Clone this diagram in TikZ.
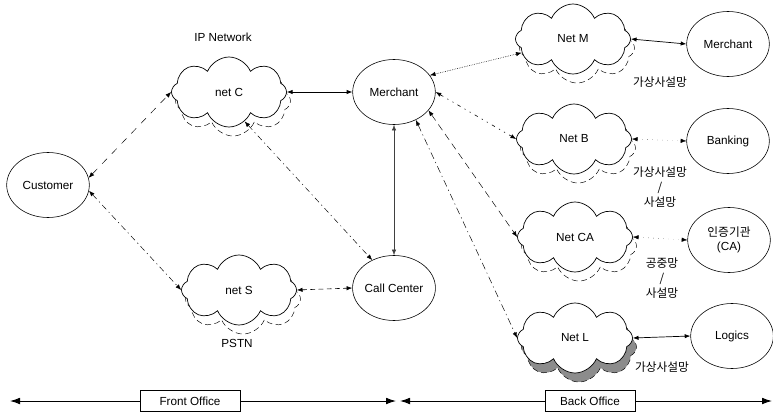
\documentclass[tikz,border=0pt]{standalone}
\usepackage{fontspec}
\setmainfont{Liberation Sans}
\newfontfamily\kr{Noto Sans CJK KR}
\usetikzlibrary{shapes.symbols,shapes.geometric,arrows.meta}
\begin{document}
\begin{tikzpicture}[x=0.03cm,y=-0.03cm,
  every node/.style={inner sep=0pt, font=\fontsize{10}{12}\selectfont},
  ell/.style={ellipse, draw, line width=0.5pt, minimum width=2.48cm, minimum height=1.95cm},
  net/.style={cloud, cloud puffs=8, cloud puff arc=135, cloud ignores aspect, draw, fill=white, line width=0.6pt, minimum width=3.45cm, minimum height=2.1cm},
  shadownet/.style={net, dash pattern=on 5pt off 3pt, line width=0.4pt},
  kor/.style={font=\kr\fontsize{10}{12.8}\selectfont, align=center},
  tip/.style={{Latex[length=1.7mm,width=1.3mm]}-{Latex[length=1.7mm,width=1.3mm]}},
  big/.style={-{Latex[length=3mm,width=2mm]}, line width=0.8pt},
  box/.style={draw, line width=0.5pt, minimum height=0.62cm},
]
\useasboundingbox (0,0) rectangle (773,414);

% clouds (shadows first)
\node[shadownet] (netCs) at (233,101) {};
\node[net] (netC) at (229,92) {net C};
\node[shadownet] (netSs) at (243,299) {};
\node[net] (netS) at (239,290) {net S};
\node[shadownet] (netMs) at (577,48) {};
\node[net] (netM) at (573,39) {Net M};
\node[shadownet] (netBs) at (578,148) {};
\node[net] (netB) at (574,139) {Net B};
\node[shadownet] (netCAs) at (579,246) {};
\node[net] (netCA) at (575,237) {Net CA};
\node[shadownet, fill=black!45] (netLs) at (579,347) {};
\node[net] (netL) at (575,338) {Net L};

% ellipses
\node[ell] (cust) at (48,185) {Customer};
\node[ell] (merch) at (394,92) {Merchant};
\node[ell] (cc) at (394,288) {Call Center};
\node[ell] (morch) at (728,44) {Merchant};
\node[ell] (bank) at (728,141) {Banking};
\node[ell, align=center, font=\fontsize{10}{12}\selectfont] (ca) at (729,240) {{\kr 인증기관}\\(CA)};
\node[ell] (logic) at (732,336) {Logics};

% labels
\node (ipn) at (223,37) {IP Network};
\node (pstn) at (237,343) {PSTN};
\node[kor] (km) at (660,82) {가상사설망};
\node[kor] (kb) at (660,187) {가상사설망\\/\\사설망};
\node[kor] (kca) at (662,278) {공중망\\/\\사설망};
\node[kor] (kl) at (662,367) {가상사설망};

% connectors
\draw[tip, line width=0.4pt, dash pattern=on 6pt off 6pt] (cust.10) -- (netC.west);
\draw[tip, line width=0.4pt, dash pattern=on 5pt off 3pt on 1pt off 3pt] (cust.-8) -- (netS.west);
\draw[tip, line width=0.6pt] (netC.east) -- (merch.west);
\draw[tip, line width=0.4pt, dash pattern=on 5pt off 3pt on 1pt off 3pt] (netC.-62) -- (cc.128);
\draw[tip, line width=0.4pt, black!75] (merch.south) -- (cc.north);
\draw[tip, line width=0.5pt, dash pattern=on 4pt off 3pt] (netS.east) -- (cc.west);
\draw[tip, line width=0.5pt, densely dotted] (merch.25) -- (netM.195);
\draw[tip, line width=0.5pt, dash pattern=on 3pt off 4pt on 1pt off 4pt on 1pt off 4pt] (merch.east) -- (netB.west);
\draw[tip, line width=0.4pt, dash pattern=on 6pt off 4pt] (merch.-28) -- (netCA.west);
\draw[tip, line width=0.4pt, dash pattern=on 6pt off 3pt on 1pt off 3pt] (merch.-52) -- (netL.west);
\draw[tip, line width=0.6pt] (netM.east) -- (morch.west);
\draw[tip, line width=0.3pt, loosely dotted] (netB.east) -- (bank.west);
\draw[tip, line width=0.3pt, loosely dotted] (netCA.east) -- (ca.west);
\draw[tip, line width=0.6pt] (netL.east) -- (logic.west);

% bottom office bar
\node[box, minimum width=3cm] (fo) at (190,401) {Front Office};
\node[box, minimum width=2.7cm] (bo) at (590,401) {Back Office};
\coordinate (L) at (10,401);
\coordinate (M1) at (396,401);
\coordinate (M2) at (400,401);
\coordinate (R) at (772,401);
\draw[big] (fo.west) -- (L);
\draw[big] (fo.east) -- (M1);
\draw[big] (bo.west) -- (M2);
\draw[big] (bo.east) -- (R);
\end{tikzpicture}
\end{document}
